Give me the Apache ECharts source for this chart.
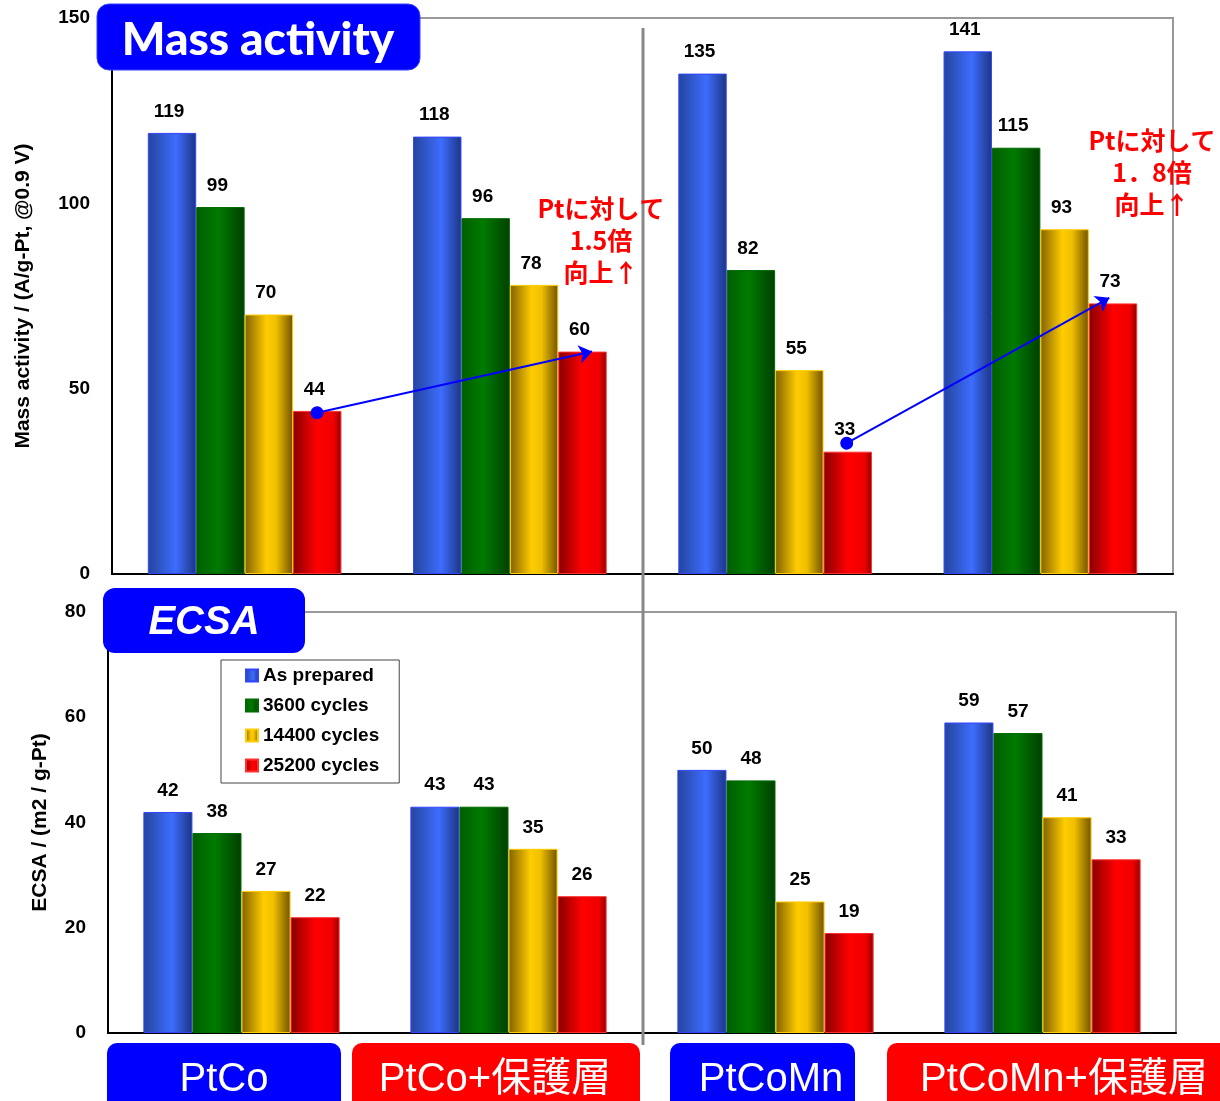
<!DOCTYPE html>
<html>
<head>
<meta charset="utf-8">
<script src="https://cdn.jsdelivr.net/npm/echarts@6/dist/echarts.min.js"></script>
<style>
  html, body { margin: 0; padding: 0; background: #ffffff; }
  #chart { width: 1220px; height: 1101px; }
</style>
</head>
<body>
<div id="chart"></div>
<script>
// Catalysts (x categories) and durability stages (series)
const catalysts = ['PtCo', 'PtCo+保護層', 'PtCoMn', 'PtCoMn+保護層'];
const stages = ['As prepared', '3600 cycles', '14400 cycles', '25200 cycles'];

// Mass activity (A/g-Pt @0.9 V), one array per stage
const massAsPrepared = [119, 118, 135, 141];
const mass3600 = [99, 96, 82, 115];
const mass14400 = [70, 78, 55, 93];
const mass25200 = [44, 60, 33, 73];

// ECSA (m2 / g-Pt), one array per stage
const ecsaAsPrepared = [42, 43, 50, 59];
const ecsa3600 = [38, 43, 48, 57];
const ecsa14400 = [27, 35, 25, 41];
const ecsa25200 = [22, 26, 19, 33];

// Y axis ticks
const massTicks = [0, 50, 100, 150];
const ecsaTicks = [0, 20, 40, 60, 80];

// Improvement arrows on the mass-activity panel: [from x, from y] -> [to x, to y]
// x is in category units (0..4 across the panel), y in A/g-Pt
const arrowPtCo = [[0.773, 43.5], [1.81, 60]];
const arrowPtCoMn = [[2.77, 35.3], [3.76, 74.5]];

const grad = (stops) => new echarts.graphic.LinearGradient(0, 0, 1, 0,
  stops.map(([o, c]) => ({ offset: o, color: c })));

const palette = [
  { fill: grad([[0, '#24449c'], [0.58, '#3d6dff'], [1, '#1c3482']]), border: '#3344ff' },
  { fill: grad([[0, '#005e00'], [0.45, '#007b00'], [1, '#003f00']]), border: '#006a00' },
  { fill: grad([[0, '#806000'], [0.45, '#ffcc00'], [0.65, '#f0c000'], [1, '#705200']]), border: '#ffcc00' },
  { fill: grad([[0, '#860000'], [0.5, '#ff0000'], [0.85, '#ee0000'], [1, '#8c0000']]), border: '#ff3030' }
];

const massData = [massAsPrepared, mass3600, mass14400, mass25200];
const ecsaData = [ecsaAsPrepared, ecsa3600, ecsa14400, ecsa25200];

const SANS = '"Liberation Sans", Arial, sans-serif';
const labelStyle = { show: true, position: 'top', distance: 12, color: '#000',
  fontFamily: SANS, fontWeight: 'bold', fontSize: 19 };

const series = [];
stages.forEach((name, i) => {
  series.push({
    name, type: 'bar', xAxisIndex: 0, yAxisIndex: 0,
    data: massData[i], barGap: 0, barCategoryGap: '27%',
    itemStyle: { color: palette[i].fill, borderColor: palette[i].border, borderWidth: 1 },
    label: Object.assign({}, labelStyle, { offset: [-3, 0] })
  });
});
stages.forEach((name, i) => {
  series.push({
    name, type: 'bar', xAxisIndex: 1, yAxisIndex: 1,
    data: ecsaData[i], barGap: 0, barCategoryGap: '26.5%',
    itemStyle: { color: palette[i].fill, borderColor: palette[i].border, borderWidth: 1 },
    label: labelStyle
  });
});

// Arrow overlays drawn through the panel's hidden value axis
const arrowLine = (pts) => [{ coord: pts[0] }, { coord: pts[1] }];
series.push({
  type: 'line', xAxisIndex: 2, yAxisIndex: 0, silent: true,
  data: [arrowPtCo[0], arrowPtCo[1]],
  showSymbol: false, lineStyle: { width: 0, opacity: 0 },
  markLine: {
    silent: true, animation: false,
    symbol: ['circle', 'arrow'], symbolSize: [14, 13],
    label: { show: false },
    lineStyle: { color: '#0000ff', width: 2, type: 'solid' },
    data: [arrowLine(arrowPtCo), arrowLine(arrowPtCoMn)]
  }
});

const axisLabelFont = { color: '#000', fontFamily: SANS, fontWeight: 'bold', fontSize: 19 };
const axisNameFont = { color: '#000', fontFamily: SANS, fontWeight: 'bold', fontSize: 21 };

const popFont = 'bold 25px "Noto Sans CJK JP", sans-serif';
const boxFont = '40px "Liberation Sans", "Noto Sans CJK JP", sans-serif';

const option = {
  animation: false,
  backgroundColor: '#ffffff',
  grid: [
    { left: 112, right: 47, top: 18, height: 556, show: true, borderColor: '#999', borderWidth: 2 },
    { left: 108, right: 44, top: 612, height: 421, show: true, borderColor: '#999', borderWidth: 2 }
  ],
  legend: {
    data: stages, orient: 'vertical', left: 221, top: 660,
    backgroundColor: '#fff', borderColor: '#444', borderWidth: 1,
    padding: [6, 20, 8, 24], itemGap: 11, itemWidth: 12, itemHeight: 12,
    icon: 'rect', selectedMode: false,
    textStyle: { color: '#000', fontFamily: SANS, fontWeight: 'bold', fontSize: 19 }
  },
  xAxis: [
    { type: 'category', gridIndex: 0, data: catalysts,
      axisLine: { lineStyle: { color: '#000', width: 2 } },
      axisTick: { inside: true, length: 6, lineStyle: { color: '#000' } },
      axisLabel: { show: false } },
    { type: 'category', gridIndex: 1, data: catalysts,
      axisLine: { lineStyle: { color: '#000', width: 2 } },
      axisTick: { inside: true, length: 6, lineStyle: { color: '#000' } },
      axisLabel: { show: false } },
    { type: 'value', gridIndex: 0, min: 0, max: 4, show: false }
  ],
  yAxis: [
    { type: 'value', gridIndex: 0, min: massTicks[0], max: massTicks[massTicks.length - 1], interval: 50,
      name: 'Mass activity / (A/g-Pt, @0.9 V)', nameLocation: 'middle', nameGap: 78,
      nameTextStyle: axisNameFont,
      axisLine: { show: true, lineStyle: { color: '#000', width: 2 } },
      axisTick: { show: false }, splitLine: { show: false },
      axisLabel: Object.assign({ margin: 22 }, axisLabelFont) },
    { type: 'value', gridIndex: 1, min: ecsaTicks[0], max: ecsaTicks[ecsaTicks.length - 1], interval: 20,
      name: 'ECSA / (m2 / g-Pt)', nameLocation: 'middle', nameGap: 57,
      nameTextStyle: axisNameFont,
      axisLine: { show: true, lineStyle: { color: '#000', width: 2 } },
      axisTick: { show: false }, splitLine: { show: false },
      axisLabel: Object.assign({ margin: 22 }, axisLabelFont) }
  ],
  series,
  graphic: [
    // centre divider between PtCo and PtCoMn families
    { type: 'line', z: 50, shape: { x1: 643, y1: 28, x2: 643, y2: 1045 },
      style: { stroke: '#888', lineWidth: 3 } },
    // panel titles
    { type: 'rect', z: 60, shape: { x: 97, y: 4, width: 323, height: 66, r: 12 },
      style: { fill: '#0000ff', stroke: '#3344ff', lineWidth: 1 } },
    { type: 'text', z: 61, x: 258, y: 40,
      style: { text: 'Mass activity', fill: '#fff', align: 'center', verticalAlign: 'middle',
        font: '900 46px "Lato", "Noto Sans", sans-serif' } },
    { type: 'rect', z: 60, shape: { x: 103, y: 588, width: 202, height: 65, r: 12 },
      style: { fill: '#0000ff' } },
    { type: 'text', z: 61, x: 204, y: 623,
      style: { text: 'ECSA', fill: '#fff', align: 'center', verticalAlign: 'middle',
        font: 'italic bold 40px "Liberation Sans", sans-serif' } },
    // improvement notes
    { type: 'text', z: 61, x: 601, y: 240,
      style: { text: 'Ptに対して\n1.5倍\n向上↑', fill: '#ff0000', align: 'center', verticalAlign: 'middle',
        font: popFont, lineHeight: 32 } },
    { type: 'text', z: 61, x: 1152, y: 172,
      style: { text: 'Ptに対して\n1．8倍\n向上↑', fill: '#ff0000', align: 'center', verticalAlign: 'middle',
        font: popFont, lineHeight: 32 } },
    // catalyst name plates
    { type: 'rect', z: 60, shape: { x: 107, y: 1043, width: 234, height: 70, r: 10 }, style: { fill: '#0000ff' } },
    { type: 'text', z: 61, x: 224, y: 1080,
      style: { text: 'PtCo', fill: '#fff', align: 'center', verticalAlign: 'middle', font: boxFont } },
    { type: 'rect', z: 60, shape: { x: 352, y: 1043, width: 288, height: 70, r: 10 }, style: { fill: '#ff0000' } },
    { type: 'text', z: 61, x: 495, y: 1080,
      style: { text: 'PtCo+保護層', fill: '#fff', align: 'center', verticalAlign: 'middle', font: boxFont } },
    { type: 'rect', z: 60, shape: { x: 670, y: 1043, width: 185, height: 70, r: 10 }, style: { fill: '#0000ff' } },
    { type: 'text', z: 61, x: 771, y: 1080,
      style: { text: 'PtCoMn', fill: '#fff', align: 'center', verticalAlign: 'middle', font: boxFont } },
    { type: 'rect', z: 60, shape: { x: 887, y: 1043, width: 345, height: 70, r: 10 }, style: { fill: '#ff0000' } },
    { type: 'text', z: 61, x: 1064, y: 1080,
      style: { text: 'PtCoMn+保護層', fill: '#fff', align: 'center', verticalAlign: 'middle', font: boxFont } }
  ]
};

const chart = echarts.init(document.getElementById('chart'), null, { renderer: 'canvas' });
chart.setOption(option);
</script>
</body>
</html>
